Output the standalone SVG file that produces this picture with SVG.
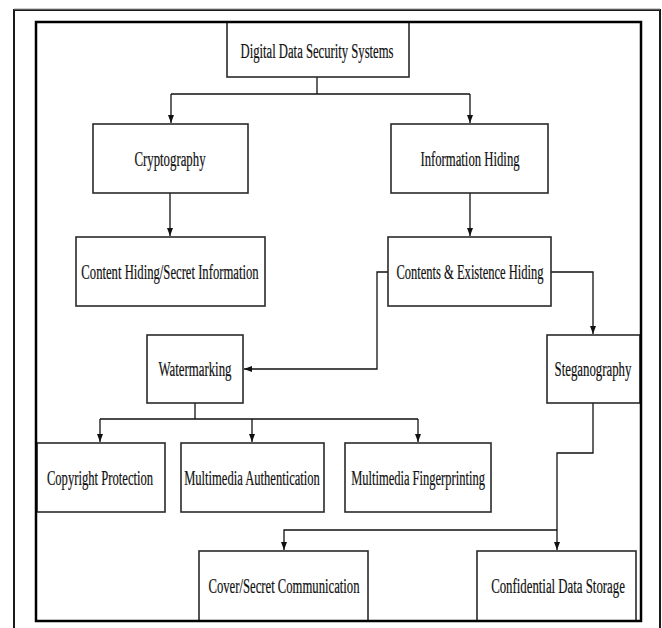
<svg xmlns="http://www.w3.org/2000/svg" width="662" height="628" viewBox="0 0 662 628">
<style>
.box{fill:#fff;stroke:#2a2a2a;stroke-width:1.6}
.lbl{font-family:"Liberation Serif","Times New Roman",serif;font-size:20px;fill:#111;stroke:#111;stroke-width:0.2;text-anchor:middle;dominant-baseline:central}
.con{fill:none;stroke:#111;stroke-width:1.3}
</style>
<defs>
<marker id="arr" markerUnits="userSpaceOnUse" markerWidth="10" markerHeight="10" refX="8" refY="5" orient="auto">
<path d="M0,2 L8,5 L0,8 Z" fill="#111"/>
</marker>
</defs>
<rect x="0" y="0" width="662" height="628" fill="#fff"/>
<path d="M14,640 V10 H660 V640" fill="none" stroke="#1a1a1a" stroke-width="2"/>
<line x1="14" y1="9" x2="660" y2="9" stroke="#999" stroke-width="1"/>
<g id="connectors">
<path class="con" d="M317,77 V94 M171,94 H470"/>
<path class="con" d="M171,94 V123" marker-end="url(#arr)"/>
<path class="con" d="M470,94 V123" marker-end="url(#arr)"/>
<path class="con" d="M170,193 V236" marker-end="url(#arr)"/>
<path class="con" d="M470,193 V236" marker-end="url(#arr)"/>
<path class="con" d="M388,272 H377 V369 H244" marker-end="url(#arr)"/>
<path class="con" d="M551,272 H593 V334" marker-end="url(#arr)"/>
<path class="con" d="M195,403 V419 M100,419 H418"/>
<path class="con" d="M100,419 V442" marker-end="url(#arr)"/>
<path class="con" d="M252,419 V442" marker-end="url(#arr)"/>
<path class="con" d="M418,419 V442" marker-end="url(#arr)"/>
<path class="con" d="M593,403 V453 H557 V550" marker-end="url(#arr)"/>
<path class="con" d="M557,530 H284 V550" marker-end="url(#arr)"/>
</g>
<g id="n-digital"><rect class="box" x="227" y="22" width="182" height="55"/><text class="lbl" transform="translate(317,51) scale(0.64,1)" textLength="239" lengthAdjust="spacingAndGlyphs">Digital Data Security Systems</text></g>
<g id="n-crypto"><rect class="box" x="93" y="124" width="155" height="69"/><text class="lbl" transform="translate(170,159.5) scale(0.64,1)" textLength="111" lengthAdjust="spacingAndGlyphs">Cryptography</text></g>
<g id="n-infohiding"><rect class="box" x="391" y="124" width="157" height="69"/><text class="lbl" transform="translate(470,159.5) scale(0.64,1)" textLength="155" lengthAdjust="spacingAndGlyphs">Information Hiding</text></g>
<g id="n-content"><rect class="box" x="76" y="237" width="189" height="69"/><text class="lbl" transform="translate(170,272) scale(0.64,1)" textLength="277" lengthAdjust="spacingAndGlyphs">Content Hiding/Secret Information</text></g>
<g id="n-contents"><rect class="box" x="388" y="237" width="163" height="69"/><text class="lbl" transform="translate(470,272) scale(0.64,1)" textLength="230" lengthAdjust="spacingAndGlyphs">Contents &amp; Existence Hiding</text></g>
<g id="n-water"><rect class="box" x="147" y="335" width="96" height="68"/><text class="lbl" transform="translate(195,369) scale(0.64,1)" textLength="114" lengthAdjust="spacingAndGlyphs">Watermarking</text></g>
<g id="n-steg"><rect class="box" x="547" y="335" width="93" height="68"/><text class="lbl" transform="translate(593,369) scale(0.64,1)" textLength="120" lengthAdjust="spacingAndGlyphs">Steganography</text></g>
<g id="n-copyright"><rect class="box" x="37" y="443" width="128" height="69"/><text class="lbl" transform="translate(100,478) scale(0.64,1)" textLength="166" lengthAdjust="spacingAndGlyphs">Copyright Protection</text></g>
<g id="n-mmauth"><rect class="box" x="181" y="443" width="143" height="69"/><text class="lbl" transform="translate(252,478) scale(0.64,1)" textLength="212" lengthAdjust="spacingAndGlyphs">Multimedia Authentication</text></g>
<g id="n-mmfinger"><rect class="box" x="345" y="443" width="146" height="69"/><text class="lbl" transform="translate(418,478) scale(0.64,1)" textLength="209" lengthAdjust="spacingAndGlyphs">Multimedia Fingerprinting</text></g>
<g id="n-cover"><rect class="box" x="199" y="551" width="169" height="70"/><text class="lbl" transform="translate(284,586) scale(0.64,1)" textLength="236" lengthAdjust="spacingAndGlyphs">Cover/Secret Communication</text></g>
<g id="n-confidential"><rect class="box" x="477" y="551" width="159" height="70"/><text class="lbl" transform="translate(558,586) scale(0.64,1)" textLength="209" lengthAdjust="spacingAndGlyphs">Confidential Data Storage</text></g>
<rect x="36" y="22" width="605" height="599" fill="none" stroke="#000" stroke-width="2.5"/>
</svg>
